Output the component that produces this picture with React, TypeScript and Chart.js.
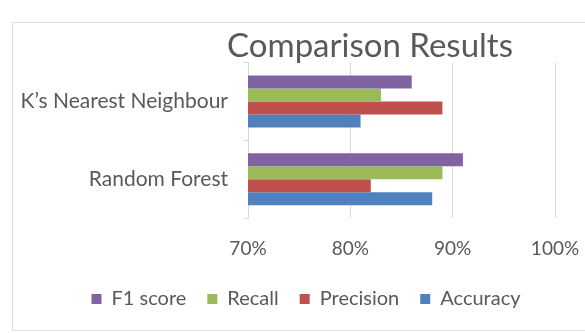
import React, { useEffect, useRef } from 'react';
import { Chart, registerables } from 'chart.js';

Chart.register(...registerables);

const categories = ['K\u2019s Nearest Neighbour', 'Random Forest'];
const seriesNames = ['F1 score', 'Recall', 'Precision', 'Accuracy'];
const f1Score = [86, 91];
const recall = [83, 89];
const precision = [89, 82];
const accuracy = [81, 88];
const seriesColors = ['#8064A2', '#9BBB59', '#C0504D', '#4F81BD'];
const xMin = 70;
const xMax = 100;
const xStep = 10;
const titleText = 'Comparison Results';

const FONT = 'Lato';
const TEXT_COLOR = '#595959';
const GRID_COLOR = '#d9d9d9';
const TITLE_CENTER_X = 370;
const LEGEND_CENTER_X = 306;

const boxShift = {
  id: 'boxShift',
  afterLayout(chart: any) {
    const shift = (b: any, cx: number) => {
      if (!b) return;
      const dx = cx - (b.left + b.right) / 2;
      b.left += dx;
      b.right += dx;
    };
    shift(chart.titleBlock, TITLE_CENTER_X);
    shift(chart.legend, LEGEND_CENTER_X);
  },
};

export default function App() {
  const ref = useRef<HTMLCanvasElement | null>(null);

  useEffect(() => {
    if (!ref.current) return;
    const values = [f1Score, recall, precision, accuracy];
    const chart = new Chart(ref.current, {
      type: 'bar',
      data: {
        labels: categories,
        datasets: seriesNames.map((name, i) => ({
          label: name,
          data: values[i],
          backgroundColor: seriesColors[i],
          borderWidth: 0,
          categoryPercentage: 0.67,
          barPercentage: 1,
        })),
      },
      options: {
        indexAxis: 'y',
        animation: false,
        responsive: false,
        layout: { padding: { left: 12, right: 30, top: 22, bottom: 14 } },
        scales: {
          x: {
            min: xMin,
            max: xMax,
            ticks: {
              stepSize: xStep,
              callback: (v: any) => v + '%',
              color: TEXT_COLOR,
              font: { family: FONT, size: 19 },
              padding: 19,
            },
            grid: { color: GRID_COLOR, drawTicks: false },
            border: { display: false },
            afterFit: (s: any) => {
              s.height = 50;
              s.paddingRight = 0;
              s.paddingLeft = 0;
            },
          },
          y: {
            ticks: {
              color: TEXT_COLOR,
              font: { family: FONT, size: 21 },
              padding: 15,
            },
            grid: {
              display: true,
              drawOnChartArea: false,
              drawTicks: true,
              tickLength: 5,
              color: GRID_COLOR,
              offset: true,
            },
            border: { display: true, color: GRID_COLOR },
            afterFit: (s: any) => {
              s.width = 236;
            },
          },
        },
        plugins: {
          title: {
            display: true,
            text: titleText,
            color: TEXT_COLOR,
            font: { family: FONT, size: 33, weight: 'normal', lineHeight: 0.9 },
            padding: { top: 10, bottom: 1 },
          },
          legend: {
            position: 'bottom',
            labels: {
              boxWidth: 10,
              boxHeight: 10,
              padding: 21,
              color: TEXT_COLOR,
              font: { family: FONT, size: 20 },
            },
          },
          tooltip: { enabled: false },
        },
      } as any,
      plugins: [boxShift],
    });
    return () => chart.destroy();
  }, []);

  return (
    <div style={{ position: 'fixed', left: 0, top: 0, width: 585, height: 333, background: '#fff', overflow: 'hidden' }}>
      <div
        style={{
          position: 'absolute',
          left: 12,
          top: 22,
          width: 640,
          height: 309,
          border: '1px solid #e0e0e0',
          boxSizing: 'border-box',
        }}
      />
      <canvas ref={ref} width={585} height={333} style={{ position: 'absolute', left: 0, top: 0 }} />
    </div>
  );
}
